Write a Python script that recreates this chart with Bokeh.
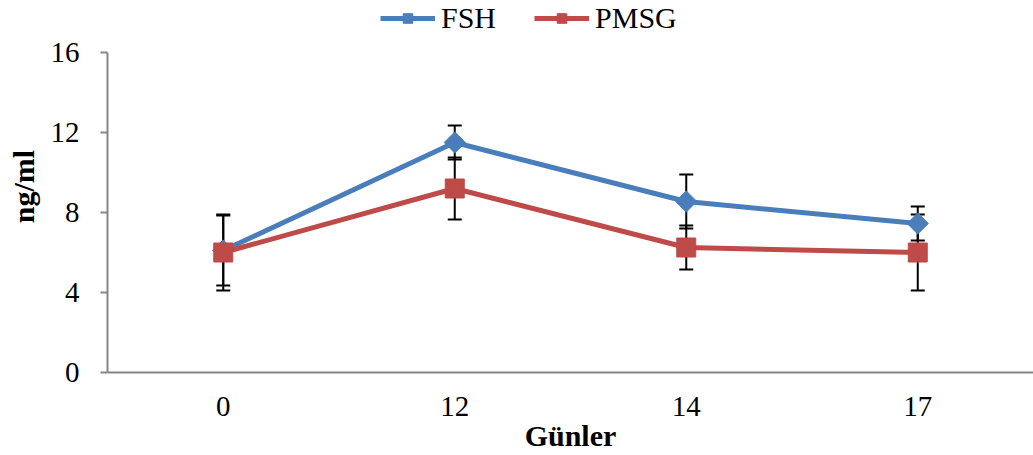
import math
from bokeh.plotting import figure
from bokeh.models import (ColumnDataSource, Whisker, TeeHead, Legend, LegendItem,
                          Range1d, FactorRange, FixedTicker)
from bokeh.embed import file_html
from bokeh.resources import INLINE

days = ["0", "12", "14", "17"]
fsh = [6.1, 11.5, 8.55, 7.45]
fsh_err = [1.75, 0.85, 1.35, 0.85]
pmsg = [6.0, 9.2, 6.25, 6.0]
pmsg_err = [1.9, 1.55, 1.1, 1.9]
y_ticks = [0, 4, 8, 12, 16]

BLUE = "#4A7EBB"
RED = "#BE4B48"
FONT = "Liberation Serif"

p = figure(x_range=FactorRange(*days, range_padding=0), y_range=Range1d(0, 18.6),
           width=1033, height=455, output_backend="svg", toolbar_location=None,
           min_border_left=107, min_border_right=0, min_border_top=0, min_border_bottom=83)
p.outline_line_color = None
p.grid.visible = False
p.background_fill_color = "white"

src_f = ColumnDataSource(dict(x=days, y=fsh,
                              lo=[a - b for a, b in zip(fsh, fsh_err)],
                              hi=[a + b for a, b in zip(fsh, fsh_err)]))
src_p = ColumnDataSource(dict(x=days, y=pmsg,
                              lo=[a - b for a, b in zip(pmsg, pmsg_err)],
                              hi=[a + b for a, b in zip(pmsg, pmsg_err)]))

for src in (src_f, src_p):
    w = Whisker(base="x", upper="hi", lower="lo", source=src, line_color="black",
                line_width=2,
                upper_head=TeeHead(size=14, line_width=2, line_color="black"),
                lower_head=TeeHead(size=14, line_width=2, line_color="black"))
    p.add_layout(w)

lf = p.line("x", "y", source=src_f, line_color=BLUE, line_width=5)
mf = p.scatter("x", "y", source=src_f, marker="square", angle=math.pi / 4, size=15,
               fill_color=BLUE, line_color=BLUE)
lp = p.line("x", "y", source=src_p, line_color=RED, line_width=5)
mp = p.scatter("x", "y", source=src_p, marker="square", size=19, fill_color=RED,
               line_color=RED)

# axes
p.yaxis.ticker = FixedTicker(ticks=y_ticks)
p.yaxis.bounds = (0, 16)
p.yaxis.minor_tick_line_color = None
p.yaxis.major_tick_in = 0
p.yaxis.major_tick_out = 7
p.yaxis.major_label_standoff = 21
p.yaxis.axis_label = "ng/ml"
p.yaxis.axis_label_standoff = 8
for ax in (p.xaxis, p.yaxis):
    ax.axis_line_color = "#868686"
    ax.axis_line_width = 2
    ax.major_tick_line_color = "#868686"
    ax.major_tick_line_width = 2
    ax.major_label_text_font = FONT
    ax.major_label_text_font_size = "29px"
    ax.major_label_text_color = "black"
    ax.axis_label_text_font = FONT
    ax.axis_label_text_font_style = "bold"
    ax.axis_label_text_font_size = "30px"
    ax.axis_label_text_color = "black"
p.xaxis.major_tick_line_color = None
p.xaxis.major_tick_out = 0
p.xaxis.major_tick_in = 0
p.xaxis.major_label_standoff = 24
p.xaxis.axis_label = "Günler"
p.xaxis.axis_label_standoff = 0

legend = Legend(items=[LegendItem(label="FSH", renderers=[lf, mf]),
                       LegendItem(label="PMSG", renderers=[lp, mp])],
                location=(273, 337), orientation="horizontal",
                label_text_font=FONT, label_text_font_size="30px",
                label_text_color="black",
                glyph_width=55, glyph_height=24, label_standoff=6, spacing=38,
                padding=0, margin=0, border_line_color=None,
                background_fill_alpha=0)
p.add_layout(legend, "center")

open("out.html", "w").write(file_html(p, INLINE))
